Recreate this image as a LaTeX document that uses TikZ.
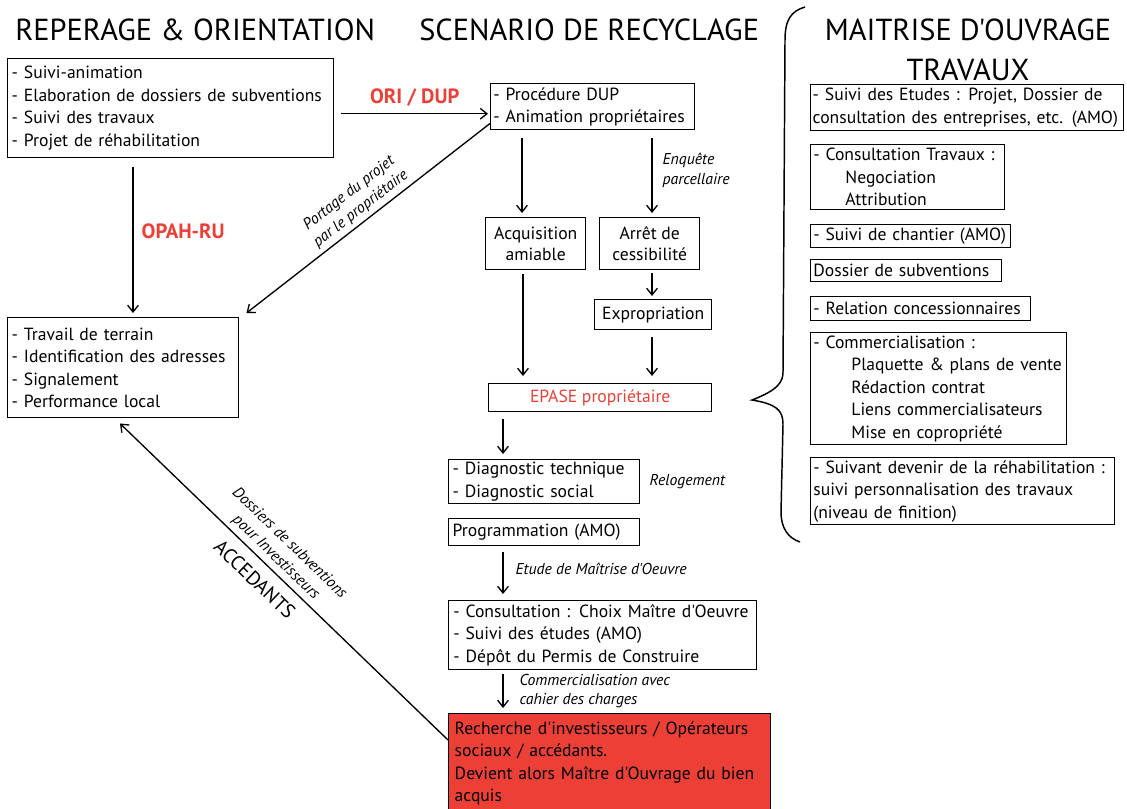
\documentclass[tikz,border=0pt]{standalone}
\usepackage{fontspec}
\setmainfont{PT Sans}[Ligatures=TeXOff]
\usetikzlibrary{arrows.meta}
\definecolor{epred}{RGB}{236,64,55}
\begin{document}
\begin{tikzpicture}[x=0.75pt,y=-0.75pt,
  every node/.style={font=\fontsize{13.2}{16.9}\selectfont, inner sep=0pt},
  bx/.style={draw, line width=1.1pt, anchor=north west, align=left, inner xsep=3pt},
  rbx/.style={draw, line width=1.1pt, anchor=north west, align=left, inner xsep=2pt},
  cbx/.style={draw, line width=1.1pt, anchor=north west, align=center},
  arr/.style={line width=1pt, -{Straight Barb[length=5pt,width=8pt]}},
  lbl/.style={font=\fontsize{11.8}{14.6}\selectfont\itshape},
  redlbl/.style={font=\fontsize{15.5}{18}\selectfont\bfseries, text=epred},
  ttl/.style={font=\fontsize{22.8}{30}\selectfont, anchor=base west}]
\useasboundingbox (0,0) rectangle (1127,808);
\fill[white] (0,0) rectangle (1127,808);

% titles
\node[ttl] (t1) at (15,40) {REPERAGE \& ORIENTATION};
\node[ttl] (t2) at (419,40) {SCENARIO DE RECYCLAGE};
\node[ttl, anchor=base] (t3) at (968,40) {MAITRISE D'OUVRAGE};
\node[ttl, anchor=base] (t4) at (968,80) {TRAVAUX};

% left column
\node[bx, text width=238.5pt, minimum height=74.25pt] (A) at (7,58)
  {- Suivi-animation\\- Elaboration de dossiers de subventions\\- Suivi des travaux\\- Projet de réhabilitation};
\node[bx, text width=167.25pt, minimum height=75pt] (C) at (7,317)
  {- Travail de terrain\\- Identification des adresses\\- Signalement\\- Performance local};

% middle column
\node[bx, inner xsep=2pt, text width=149pt, minimum height=34.5pt] (B) at (490,83)
  {- Procédure DUP\\- Animation propriétaires};
\node[cbx, minimum width=75pt, minimum height=39pt, font=\fontsize{13.2}{15.75}\selectfont] (D) at (485,217) {Acquisition\\amiable};
\node[cbx, minimum width=75pt, minimum height=39pt, font=\fontsize{13.2}{15.75}\selectfont] (E) at (599,217) {Arrêt de\\cessibilité};
\node[cbx, minimum width=87.75pt, minimum height=22.5pt] (F) at (594,299) {Expropriation};
\node[cbx, minimum width=167.25pt, minimum height=21pt, text=epred] (G) at (488,383) {EPASE propriétaire};
\node[bx, text width=137.25pt, minimum height=33pt] (H) at (448,459)
  {- Diagnostic technique\\- Diagnostic social};
\node[bx, text width=137.25pt, minimum height=20.25pt] (I) at (448,518) {Programmation (AMO)};
\node[bx, inner xsep=3.5pt, text width=224pt, minimum height=51.75pt] (J) at (448,600)
  {\mbox{- Consultation : Choix Maître d'Oeuvre}\\- Suivi des études (AMO)\\- Dépôt du Permis de Construire};
\node[bx, fill=epred, inner xsep=4.5pt, text width=232.5pt, minimum height=74.25pt] (K) at (448,713)
  {Recherche d'investisseurs / Opérateurs\\sociaux / accédants.\\Devient alors Maître d'Ouvrage du bien\\acquis};
\node[lbl, anchor=west] (relog) at ([shift={(9,0)}]H.east) {Relogement};

% right column
\node[rbx, inner xsep=1.5pt, text width=231.75pt, minimum height=34.5pt] (R1) at (810,84)
  {- Suivi des Etudes : Projet, Dossier de\\consultation des entreprises, etc. (AMO)};
\node[rbx, text width=141.5pt, minimum height=48.75pt] (R2) at (810,144)
  {- Consultation Travaux :\\\hspace*{24pt}Negociation\\\hspace*{24pt}Attribution};
\node[rbx, text width=146pt, minimum height=17.25pt] (R3) at (810,224) {- Suivi de chantier (AMO)};
\node[rbx, text width=139.25pt, minimum height=16.5pt] (R4) at (810,259) {Dossier de subventions};
\node[rbx, text width=161pt, minimum height=18pt] (R5) at (810,296) {- Relation concessionnaires};
\node[rbx, text width=188pt, minimum height=84pt] (R6) at (810,332)
  {- Commercialisation :\\\hspace*{28.5pt}Plaquette \& plans de vente\\\hspace*{28.5pt}Rédaction contrat\\\hspace*{28.5pt}Liens commercialisateurs\\\hspace*{28.5pt}Mise en copropriété};
\node[rbx, text width=224pt, minimum height=50.25pt] (R7) at (810,457)
  {- Suivant devenir de la réhabilitation :\\suivi personnalisation des travaux\\(niveau de finition)};

% brace
\draw[line width=1.1pt] (805,7) .. controls (791,11) and (785,20) .. (785,40)
  -- (783,372) .. controls (783,382) and (778,390) .. (752,400)
  .. controls (776,404) and (783,410) .. (783,424)
  -- (781,512) .. controls (781,528) and (788,538) .. (800,542);

% connectors
\draw[arr] ([shift={(7,5.5)}]A.east) -- node[redlbl, above=5pt] {ORI / DUP} ([shift={(-2,7)}]B.west);
\draw[arr] ([shift={(0,-7)}]B.south west) -- node[lbl, sloped, above=3pt, align=center] {Portage du projet\\par le propriétaire} ([shift={(7,-4)}]C.north east);
\draw[arr] ([shift={(126,9)}]A.south west) -- node[redlbl, pos=0.44, right=6pt] {OPAH-RU} ([shift={(126,-4)}]C.north west);
\draw[arr] ([shift={(0,27)}]K.north west) --
  node[pos=0.55, sloped, above=3pt, lbl, align=center] {Dossiers de subventions\\pour Investisseurs}
  node[pos=0.55, sloped, below=8pt, font=\fontsize{15}{17}\selectfont] {ACCEDANTS}
  ([shift={(113,5)}]C.south west);

\draw[arr] ([shift={(32,8)}]B.south west) -- ([shift={(37,-4)}]D.north west);
\draw[arr] ([shift={(162,8)}]B.south west) -- node[lbl, pos=0.43, right=7.5pt, align=left] {Enquête\\parcellaire} ([shift={(53,-4)}]E.north west);
\draw[arr] ([shift={(53,3)}]E.south west) -- ([shift={(58,-3)}]F.north west);
\draw[arr] ([shift={(38,4)}]D.south west) -- ([shift={(35,-7)}]G.north west);
\draw[arr] ([shift={(58,7)}]F.south west) -- ([shift={(164,-7)}]G.north west);
\draw[arr] ([shift={(15,7)}]G.south west) -- ([shift={(55,-5)}]H.north west);
\draw[arr] ([shift={(55,6)}]I.south west) -- node[lbl, pos=0.4, right=9pt] {Etude de Maîtrise d'Oeuvre} ([shift={(55,-6)}]J.north west);
\draw[arr] ([shift={(55,4)}]J.south west) -- node[lbl, pos=0.5, right=12pt, align=left] {Commercialisation avec\\cahier des charges} ([shift={(55,-5)}]K.north west);
\end{tikzpicture}
\end{document}
